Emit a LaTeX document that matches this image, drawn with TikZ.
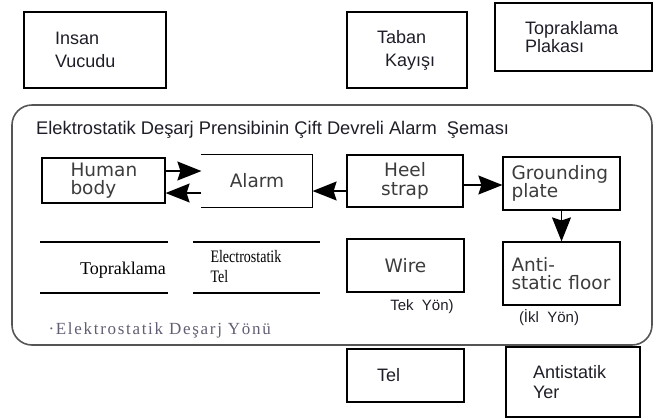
\documentclass[tikz,border=0pt]{standalone}
\usepackage{fontspec}
\setmainfont{Liberation Sans}
\newfontfamily\blockfont{DejaVu Sans}
\newfontfamily\serifface{Liberation Serif}
\newfontfamily\narrowserif[FakeStretch=0.8]{Liberation Serif}
\usetikzlibrary{arrows.meta}

\definecolor{labelink}{RGB}{30,30,40}
\definecolor{blockink}{RGB}{60,60,60}
\definecolor{frameink}{RGB}{85,85,85}
\definecolor{noteink}{RGB}{95,95,115}

\tikzstyle{outer}=[rectangle,draw=black,line width=1.2pt,inner sep=0pt,align=left,text=labelink,font=\fontsize{18}{21}\selectfont]
\tikzstyle{block}=[rectangle,draw=black,line width=1.2pt,inner sep=0pt,text=blockink,font=\blockfont\fontsize{18.5}{18.5}\selectfont]
\tikzstyle{flow}=[line width=1.4pt,-{Stealth[length=24pt,width=19pt,inset=3pt]}]

\begin{document}
\begin{tikzpicture}[x=1pt,y=-1pt]
	\useasboundingbox (0,0) rectangle (658,418);

	\node (IV) at (95,50) [outer,minimum width=142,minimum height=76,text width=80,font=\fontsize{18}{23}\selectfont] {Insan\\Vucudu};
	\node (TK) at (407,50) [outer,minimum width=120,minimum height=76,text width=60,font=\fontsize{18}{23}\selectfont] {Taban\\\hspace*{8pt}Kayışı};
	\node (TP) at (573.5,37) [outer,minimum width=157,minimum height=68,text width=97,font=\fontsize{18}{18}\selectfont] {Topraklama\\Plakası};
	\node (TL) at (405.5,375.5) [outer,minimum width=117,minimum height=53,text width=57] {Tel};
	\node (AY) at (573,382) [outer,minimum width=134,minimum height=70,text width=80,font=\fontsize{18}{20}\selectfont] {Antistatik\\Yer};

	\draw [frameink,line width=1.6pt,rounded corners=20pt] (12,105) rectangle (652,345);
	\node (title) at (36,130) [anchor=west,inner sep=0pt,text=labelink,font=\fontsize{18.3}{18.3}\selectfont] {Elektrostatik Deşarj Prensibinin Çift Devreli Alarm~ Şeması};

		\node (HB) at (103.5,180.5) [block,minimum width=123,minimum height=45,text width=66,align=left] {Human\\body};
		\node (AL) at (257,181) [block,draw=none,minimum width=110,minimum height=52] {Alarm};
		\node (HS) at (405,181) [block,minimum width=116,minimum height=52,align=center] {Heel\\strap};
		\node (GP) at (561.5,183.5) [block,minimum width=117,minimum height=53,text width=100,align=left] {Grounding\\plate};
		\node (AF) at (561.5,273.5) [block,minimum width=117,minimum height=63,text width=100,align=left] {Anti-\\static floor};
		\node (WR) at (405.5,265.5) [block,minimum width=117,minimum height=53] {Wire};

	\draw [line width=1.2pt] (AL.north west) -- (AL.north east) -- (AL.south east) -- (AL.south west);

	\draw [flow] ([yshift=9.5pt]HB.east) to ([yshift=9.5pt]HB.east -| AL.west);
	\draw [flow] ([yshift=-12pt]AL.west) to ([yshift=-12pt]AL.west -| HB.east);
	\draw [flow] ([yshift=-10pt]HS.west) to ([yshift=-10pt]HS.west -| AL.east);
	\draw [flow] ([yshift=-4pt]HS.east) to ([yshift=-4pt]HS.east -| GP.west);
	\draw [flow] (GP) to (AF);

	\draw [line width=1.3pt] (40,242) -- (168,242);
	\draw [line width=1.3pt] (40,293) -- (168,293);
	\draw [line width=1.3pt] (193,242) -- (320,242);
	\draw [line width=1.3pt] (193,293) -- (320,293);

	\node (TR) at (123,270) [font=\serifface\fontsize{18}{18}\selectfont] {Topraklama};
	\node (ET) at (207,267) [anchor=west,align=left,font=\narrowserif\fontsize{17.5}{20}\selectfont] {Electrostatik\\Tel};
	\node (DY) at (45,330) [anchor=west,text=noteink,font=\serifface\fontsize{17}{17}\selectfont\addfontfeature{LetterSpace=10}] {·Elektrostatik Deşarj Yönü};

	\node (TY) at (422,307) [text=labelink,font=\fontsize{15}{15}\selectfont] {Tek~~Yön)};
	\node (IY) at (549,318) [text=labelink,font=\fontsize{15}{15}\selectfont] {(İkl~~Yön)};

\end{tikzpicture}
\end{document}
